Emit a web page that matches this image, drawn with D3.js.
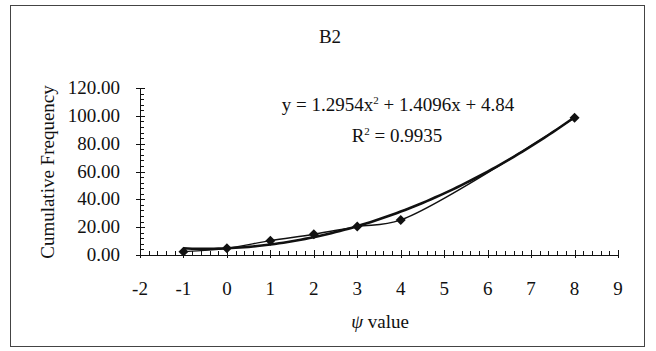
<!DOCTYPE html>
<html>
<head>
<meta charset="utf-8">
<script src="https://cdn.jsdelivr.net/npm/d3@7"></script>
<style>
  html, body { margin: 0; padding: 0; background: #fff; }
  svg { display: block; }
  text { font-family: "Liberation Serif", "Times New Roman", "DejaVu Serif", serif; fill: #111; }
</style>
</head>
<body>
<svg id="chart" width="656" height="351"></svg>
<script>
// phi values and cumulative frequency of sample B2
const phiValues = [-1, 0, 1, 2, 3, 4, 8];
const cumFrequency = [2.4, 4.8, 10.3, 14.9, 20.4, 25.2, 98.6];

// polynomial trend line coefficients (a x^2 + b x + c) and fit quality
const trendCoeffs = [1.2954, 1.4096, 4.84];
const rSquared = 0.9935;

const xTickValues = [-2, -1, 0, 1, 2, 3, 4, 5, 6, 7, 8, 9];
const yTickValues = [0, 20, 40, 60, 80, 100, 120];

const chartTitle = "B2";
const yTitle = "Cumulative Frequency";

const svg = d3.select("#chart");
const FONT = "'Liberation Serif', 'Times New Roman', serif";

// outer frame
svg.append("rect")
  .attr("x", 10.5).attr("y", 5.5)
  .attr("width", 634).attr("height", 341)
  .attr("fill", "#fff")
  .attr("stroke", "#444")
  .attr("stroke-width", 1);

const x = d3.scaleLinear().domain([-2, 9]).range([140, 618]);
const y = d3.scaleLinear().domain([0, 120]).range([255, 88]);

function label(sel, size) {
  return sel.attr("font-family", FONT).attr("font-size", size);
}

// title
label(svg.append("text"), 19)
  .attr("x", 330).attr("y", 43)
  .attr("text-anchor", "middle")
  .text(chartTitle);

// x axis: line, minor ticks every 0.2, major at integers
const axisG = svg.append("g").attr("stroke", "#111").attr("stroke-width", 1);
axisG.append("line")
  .attr("x1", x(-2)).attr("x2", x(9))
  .attr("y1", y(0) + 0.5).attr("y2", y(0) + 0.5);
const xMinor = d3.range(0, 56).map(i => -2 + i * 0.2);
axisG.selectAll("line.xminor").data(xMinor).join("line")
  .attr("class", "xminor")
  .attr("x1", d => Math.round(x(d)) + 0.5).attr("x2", d => Math.round(x(d)) + 0.5)
  .attr("y1", y(0) - 4).attr("y2", y(0) + 0.5);
axisG.selectAll("line.xmajor").data(xTickValues).join("line")
  .attr("class", "xmajor")
  .attr("x1", d => Math.round(x(d)) + 0.5).attr("x2", d => Math.round(x(d)) + 0.5)
  .attr("y1", y(0) - 5).attr("y2", y(0) + 3);

// y axis: line, minor ticks every 4, major every 20
axisG.append("line")
  .attr("x1", x(-2) + 0.5).attr("x2", x(-2) + 0.5)
  .attr("y1", y(120)).attr("y2", y(0) + 0.5);
const yMinor = d3.range(0, 31).map(i => i * 4);
axisG.selectAll("line.yminor").data(yMinor).join("line")
  .attr("class", "yminor")
  .attr("x1", x(-2) + 0.5).attr("x2", x(-2) + 4)
  .attr("y1", d => Math.round(y(d)) + 0.5).attr("y2", d => Math.round(y(d)) + 0.5);
axisG.selectAll("line.ymajor").data(yTickValues).join("line")
  .attr("class", "ymajor")
  .attr("x1", x(-2) - 4).attr("x2", x(-2) + 5)
  .attr("y1", d => Math.round(y(d)) + 0.5).attr("y2", d => Math.round(y(d)) + 0.5);

// tick labels
label(svg.selectAll("text.xlab").data(xTickValues).join("text"), 19)
  .attr("class", "xlab")
  .attr("x", d => x(d)).attr("y", 295)
  .attr("text-anchor", "middle")
  .text(d => d);
label(svg.selectAll("text.ylab").data(yTickValues).join("text"), 19)
  .attr("class", "ylab")
  .attr("x", 120).attr("y", d => y(d) + 6)
  .attr("text-anchor", "end")
  .text(d => d3.format(".2f")(d));

// axis titles
label(svg.append("text"), 19)
  .attr("transform", "translate(54,172) rotate(-90)")
  .attr("text-anchor", "middle")
  .text(yTitle);
const xt = label(svg.append("text"), 19)
  .attr("x", 380).attr("y", 328)
  .attr("text-anchor", "middle");
xt.append("tspan").attr("font-style", "italic").text("ψ");
xt.append("tspan").text(" value");

// trend line from the stated polynomial
const [a, b, c] = trendCoeffs;
const trendX = d3.range(-1, 8.0001, 0.1);
svg.append("path")
  .datum(trendX)
  .attr("fill", "none")
  .attr("stroke", "#111")
  .attr("stroke-width", 2.6)
  .attr("d", d3.line().x(d => x(d)).y(d => y(a * d * d + b * d + c)));

// smoothed data line
const pts = phiValues.map((p, i) => [p, cumFrequency[i]]);
svg.append("path")
  .datum(pts)
  .attr("fill", "none")
  .attr("stroke", "#111")
  .attr("stroke-width", 1.4)
  .attr("d", d3.line().x(d => x(d[0])).y(d => y(d[1])).curve(d3.curveCatmullRom.alpha(0.5)));

// diamond markers
svg.selectAll("path.mk").data(pts).join("path")
  .attr("class", "mk")
  .attr("transform", d => `translate(${x(d[0])},${y(d[1])})`)
  .attr("d", "M0,-5L5,0L0,5L-5,0Z")
  .attr("fill", "#111");

// equation and R-squared
const eq = label(svg.append("text"), 19)
  .attr("x", 398).attr("y", 111)
  .attr("text-anchor", "middle");
eq.append("tspan").text(`y = ${a}x`);
eq.append("tspan").attr("dy", -7).attr("font-size", 11).text("2");
eq.append("tspan").attr("dy", 7).text(` + ${b}x + ${c}`);

const r2 = label(svg.append("text"), 19)
  .attr("x", 397).attr("y", 142)
  .attr("text-anchor", "middle");
r2.append("tspan").text("R");
r2.append("tspan").attr("dy", -7).attr("font-size", 11).text("2");
r2.append("tspan").attr("dy", 7).text(` = ${rSquared}`);
</script>
</body>
</html>
